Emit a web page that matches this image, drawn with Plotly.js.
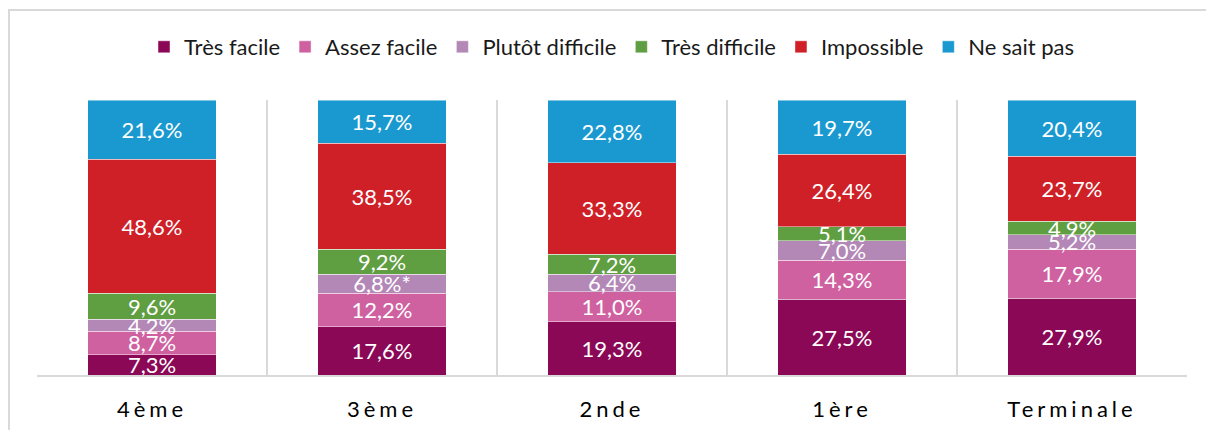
<!DOCTYPE html>
<html>
<head>
<meta charset="utf-8">
<script src="https://cdn.plot.ly/plotly-3.0.1.min.js"></script>
<style>
  html, body { margin: 0; padding: 0; background: #fff; }
  #chart { width: 1206px; height: 430px; }
  .xtick text { letter-spacing: 4px; }
</style>
</head>
<body>
<div id="chart"></div>
<script>
const categories = ["4ème", "3ème", "2nde", "1ère", "Terminale"];
const seriesNames = ["Très facile", "Assez facile", "Plutôt difficile", "Très difficile", "Impossible", "Ne sait pas"];
const tresFacile      = [7.3, 17.6, 19.3, 27.5, 27.9];
const assezFacile     = [8.7, 12.2, 11.0, 14.3, 17.9];
const plutotDifficile = [4.2, 6.8, 6.4, 7.0, 5.2];
const tresDifficile   = [9.6, 9.2, 7.2, 5.1, 4.9];
const impossible      = [48.6, 38.5, 33.3, 26.4, 23.7];
const neSaitPas       = [21.6, 15.7, 22.8, 19.7, 20.4];
// label suffixes (asterisk note on 3ème "Plutôt difficile")
const plutotNotes     = ["", "*", "", "", ""];

const colors = ["#8A0856", "#CF61A1", "#B388B7", "#5F9E41", "#CF2027", "#1A99D1"];
const seriesValues = [tresFacile, assezFacile, plutotDifficile, tresDifficile, impossible, neSaitPas];
const seriesNotes = [null, null, plutotNotes, null, null, null];

const fmt = v => v.toFixed(1).replace(".", ",") + "%";
const FONT = "Lato, 'Open Sans', sans-serif";

const traces = seriesValues.map((vals, i) => ({
  type: "bar",
  name: seriesNames[i],
  x: categories,
  y: vals,
  text: vals.map((v, j) => fmt(v) + (seriesNotes[i] ? seriesNotes[i][j] : "")),
  textposition: "inside",
  insidetextanchor: "middle",
  textangle: 0,
  constraintext: "none",
  cliponaxis: false,
  textfont: { family: FONT, size: 22, color: "#ffffff" },
  marker: { color: colors[i], line: { color: "rgba(255,255,255,0.45)", width: 1 } },
  hoverinfo: "skip"
}));

const L = 37, R = 1187, T = 100, B = 375;
const pw = R - L, ph = B - T;
const layout = {
  width: 1206,
  height: 430,
  margin: { l: L, r: 1206 - R, t: T, b: 430 - B, pad: 0 },
  barmode: "stack",
  bargap: 0.443,
  paper_bgcolor: "#ffffff",
  plot_bgcolor: "#ffffff",
  font: { family: FONT, color: "#000000" },
  uniformtext: { mode: "show", minsize: 22 },
  showlegend: true,
  legend: {
    orientation: "h",
    x: 0.5, xanchor: "center",
    y: (B - 47) / ph, yanchor: "middle",
    font: { family: FONT, size: 22, color: "#1a1a1a" },
    traceorder: "normal",
    itemclick: false
  },
  xaxis: {
    type: "category",
    tickson: "boundaries",
    showgrid: true,
    gridcolor: "#d9d9d9",
    gridwidth: 2,
    showline: true,
    linecolor: "#d9d9d9",
    linewidth: 2,
    ticks: "",
    ticklabelstandoff: 14,
    tickfont: { family: FONT, size: 22, color: "#000000" },
    fixedrange: true
  },
  yaxis: {
    range: [0, 100],
    visible: false,
    showgrid: false,
    zeroline: false,
    fixedrange: true
  },
  shapes: [{
    type: "rect",
    xref: "paper", yref: "paper",
    x0: (9 - L) / pw, x1: (1230 - L) / pw,
    y0: (B - 460) / ph, y1: (B - 10) / ph,
    line: { color: "#d9d9d9", width: 2 },
    fillcolor: "rgba(0,0,0,0)",
    layer: "below"
  }]
};

Plotly.newPlot("chart", traces, layout, { displayModeBar: false, staticPlot: true });
</script>
</body>
</html>
